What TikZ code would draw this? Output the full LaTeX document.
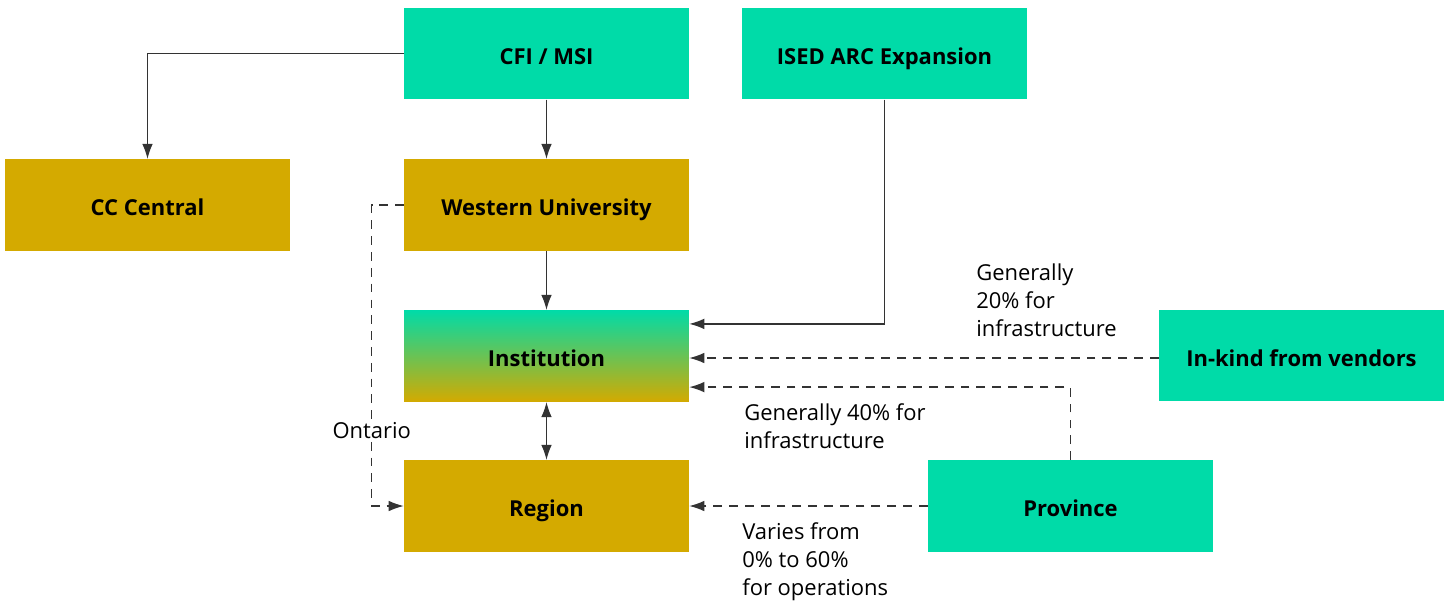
\documentclass[tikz,border=0pt]{standalone}
\usepackage{fontspec}
\setmainfont{Open Sans}
\usetikzlibrary{arrows.meta}
\definecolor{fundgreen}{HTML}{00DBA8}
\definecolor{fundgold}{HTML}{D4AA00}
\definecolor{linegray}{HTML}{333333}
\begin{document}
\begin{tikzpicture}[x = 0.02cm, y = -0.02cm,
  box/.style = {minimum width = 5.7cm, minimum height = 1.83cm, inner sep = 0pt,
    text height = 12pt, text depth = 0pt,
    font = \fontsize{12.5}{15}\selectfont\bfseries},
  funder/.style = {box, fill = fundgreen},
  recipient/.style = {box, fill = fundgold},
  link/.style = {draw = linegray, line width = 0.7pt, -{Latex[length = 8.5pt, width = 6pt]}},
  fade/.style = {dash pattern = on 5pt off 4pt},
  note/.style = {align = left, inner sep = 0pt, anchor = west,
    font = \fontsize{12.5}{16}\selectfont}]
\useasboundingbox (0,0) rectangle (1445,606);
% boxes
\node[funder] (cfi) at (546.5,53.5) {CFI / MSI};
\node[funder] (ised) at (884.5,53.5) {ISED ARC Expansion};
\node[recipient] (cc) at (147.5,205) {CC Central};
\node[recipient] (western) at (546.5,205) {Western University};
\node[box, top color = fundgreen, bottom color = fundgold] (inst) at (546.5,356) {Institution};
\node[recipient] (region) at (546.5,506) {Region};
\node[funder] (vendors) at (1301.5,355.5) {In-kind from vendors};
\node[funder] (prov) at (1070.5,506) {Province};
% solid links
\draw[link] (cfi.west) -| (cc.north);
\draw[link] (cfi) -- (western);
\draw[link] (western) -- (inst);
\draw[link] (ised.south) |- ([yshift = -0.28cm]inst.north east);
\draw[link, {Latex[length = 8.5pt, width = 6pt]}-{Latex[length = 8.5pt, width = 6pt]}] (inst) -- (region);
% dashed links
\draw[link, fade] ([yshift = -0.05cm]vendors.west) -- ([yshift = -0.05cm]vendors.west -| inst.east);
\draw[link, fade] (prov.north) |- ([yshift = 0.3cm]inst.south east);
\draw[link, fade] (prov) -- (region);
\draw[link, fade] (western.west) -- ++(-32,0) |- (region.west)
  node[pos = 0.375, fill = white, inner sep = 1pt, font = \fontsize{12.5}{15}\selectfont] (ont) {Ontario};
% notes
\node[note] (n20) at (976,300) {Generally\\20\% for\\infrastructure};
\node[note] (n40) at (744,426) {Generally 40\% for\\infrastructure};
\node[note] (n60) at (742,562) {Varies from\\0\% to 60\%\\for operations};
\end{tikzpicture}
\end{document}
